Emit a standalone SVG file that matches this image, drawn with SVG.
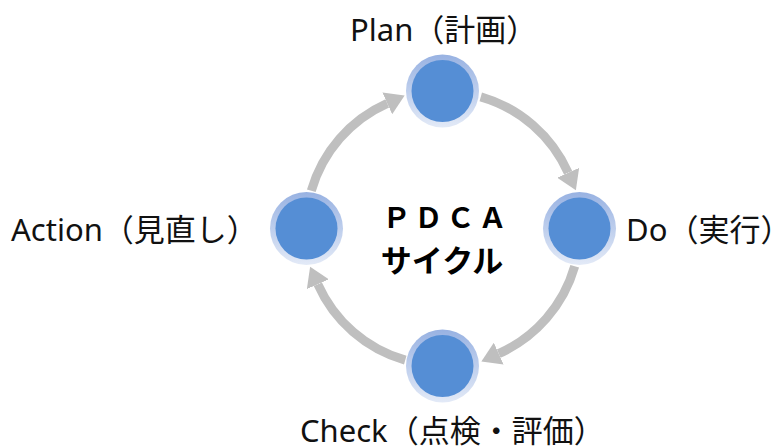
<svg xmlns="http://www.w3.org/2000/svg" width="779" height="448" viewBox="0 0 779 448">
  <style>
    .lbl { font-family: "Noto Sans", "Noto Sans CJK JP", sans-serif; font-size: 31px; fill: #111111; }
    .ctr { font-family: "Noto Sans CJK JP", sans-serif; font-weight: bold; fill: #000; }
    .ring { fill: url(#ringGrad); }
    .core { fill: #558ed5; }
    .arrow { fill: none; stroke: #bfbfbf; stroke-width: 9; marker-end: url(#head); }
  </style>
  <defs>
    <linearGradient id="ringGrad" x1="0" y1="0" x2="0" y2="1">
      <stop offset="0" stop-color="#98b2e2"/>
      <stop offset="1" stop-color="#e3eaf7"/>
    </linearGradient>
    <marker id="head" markerUnits="userSpaceOnUse" markerWidth="20" markerHeight="24" viewBox="0 0 20 24" refX="0" refY="12" orient="auto">
      <path d="M0,0 L19,12 L0,24 Z" fill="#bfbfbf"/>
    </marker>
  </defs>
  <rect width="779" height="448" fill="#ffffff"/>

  <g id="connectors">
    <path class="arrow" d="M480.76,96.80 A137,137 0 0 1 568.16,172.78"/>
    <path class="arrow" d="M574.70,266.26 A137,137 0 0 1 498.72,353.65"/>
    <path class="arrow" d="M405.24,360.20 A137,137 0 0 1 317.85,284.22"/>
    <path class="arrow" d="M311.30,190.74 A137,137 0 0 1 387.28,103.35"/>
  </g>

  <g id="plan">
    <circle class="ring" cx="442.5" cy="91" r="36.5"/>
    <circle class="core" cx="442.5" cy="91" r="31"/>
    <text class="lbl" x="350" y="41">Plan（計画）</text>
  </g>
  <g id="do">
    <circle class="ring" cx="579.5" cy="228.5" r="36.5"/>
    <circle class="core" cx="579.5" cy="228.5" r="31"/>
    <text class="lbl" x="626" y="241">Do（実行）</text>
  </g>
  <g id="check">
    <circle class="ring" cx="442.5" cy="366" r="36.5"/>
    <circle class="core" cx="442.5" cy="366" r="31"/>
    <text class="lbl" x="300" y="442">Check（点検・評価）</text>
  </g>
  <g id="action">
    <circle class="ring" cx="306.5" cy="228.5" r="36.5"/>
    <circle class="core" cx="306.5" cy="228.5" r="31"/>
    <text class="lbl" x="11" y="241">Action（見直し）</text>
  </g>

  <g id="center-title">
    <text class="ctr" x="446.5" y="228" font-size="28" letter-spacing="4" text-anchor="middle">ＰＤＣＡ</text>
    <text class="ctr" x="442" y="272" font-size="31" text-anchor="middle">サイクル</text>
  </g>
</svg>
